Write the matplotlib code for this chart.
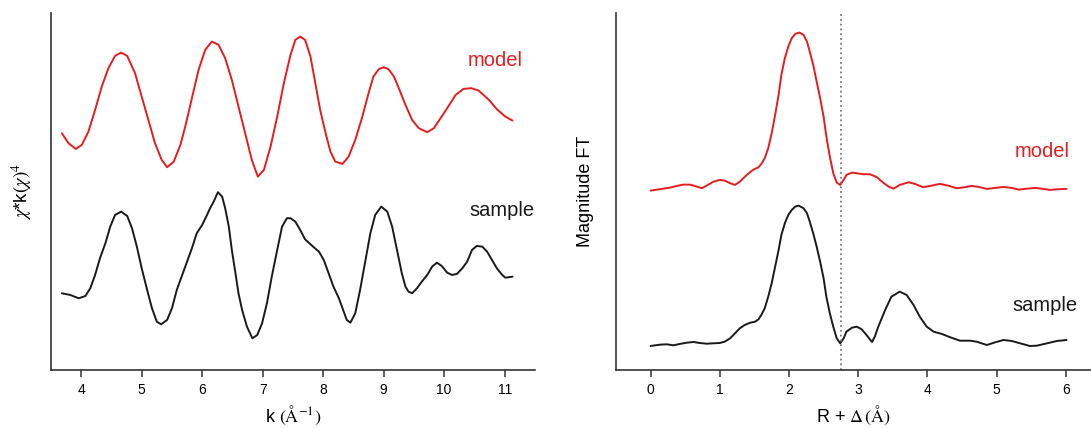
import matplotlib
matplotlib.use("Agg")
import matplotlib.pyplot as plt

plt.rcParams['font.family'] = ['Liberation Sans', 'DejaVu Sans']
plt.rcParams['mathtext.fontset'] = 'stix'

# k-space (left panel), arbitrary units
k_model = [3.68, 3.79, 3.91, 4.01, 4.12, 4.23, 4.34, 4.45, 4.56, 4.66, 4.76, 4.89, 5.00,
           5.11, 5.22, 5.33, 5.42, 5.53, 5.64, 5.72, 5.83, 5.94, 6.05, 6.16, 6.27, 6.38,
           6.49, 6.60, 6.71, 6.82, 6.92, 7.02, 7.13, 7.24, 7.35, 7.46, 7.54, 7.62, 7.70,
           7.79, 7.87, 7.95, 8.04, 8.12, 8.20, 8.32, 8.42, 8.53, 8.64, 8.75, 8.83, 8.92,
           9.00, 9.08, 9.17, 9.25, 9.36, 9.47, 9.58, 9.72, 9.83, 9.94, 10.05, 10.19, 10.32,
           10.45, 10.57, 10.74, 10.87, 11.01, 11.13]
chi_model = [236.7, 226.7, 221, 225, 238.3, 260, 283.3, 301.7, 314, 317.3, 314, 296.7, 273.3,
             250, 226.7, 210, 202.7, 208.3, 225, 243.3, 271.7, 300, 320, 328.3, 325, 311.7,
             290, 263.3, 236.7, 210, 193.3, 200, 223.3, 253.3, 286.7, 315, 330, 333.3, 330,
             313.3, 286.7, 260, 236.7, 218.3, 208.3, 206, 213.3, 230, 251.7, 276.7, 293.3, 300.7,
             302.7, 300.7, 293.3, 281.7, 265, 250, 241.7, 237.7, 241.7, 251.7, 261.7, 275, 281,
             281.7, 279.3, 270, 260.7, 253.3, 249.3]

k_sample = [3.68, 3.82, 3.96, 4.07, 4.15, 4.23, 4.31, 4.40, 4.48, 4.56, 4.66, 4.76, 4.84,
            4.92, 5.00, 5.09, 5.17, 5.25, 5.32, 5.42, 5.50, 5.58, 5.67, 5.75, 5.83, 5.91,
            6.00, 6.08, 6.13, 6.19, 6.26, 6.33, 6.38, 6.44, 6.49, 6.55, 6.60, 6.66, 6.74,
            6.83, 6.91, 6.99, 7.07, 7.15, 7.24, 7.32, 7.40, 7.46, 7.54, 7.62, 7.70, 7.82,
            7.93, 8.01, 8.09, 8.17, 8.26, 8.34, 8.39, 8.45, 8.53, 8.61, 8.70, 8.78, 8.86,
            8.96, 9.06, 9.14, 9.22, 9.30, 9.36, 9.41, 9.47, 9.55, 9.63, 9.72, 9.80, 9.88,
            9.96, 10.05, 10.13, 10.21, 10.30, 10.38, 10.46, 10.54, 10.63, 10.71, 10.79,
            10.87, 10.96, 11.01, 11.13]
chi_sample = [76.7, 75, 71.7, 74, 81.7, 95, 111.7, 126.7, 143.3, 155, 158.3, 154, 141.7,
              123.3, 101.7, 80, 61.7, 48.3, 45.7, 50, 61.7, 80, 95, 108.3, 121.7, 136.7,
              145, 155, 161.7, 168.3, 177.7, 173.3, 161.7, 143.3, 120, 96.7, 76.7, 60, 43.3,
              31.7, 35, 46.7, 66.7, 93.3, 120, 143.3, 151.7, 151.7, 148.3, 140, 130.7, 124,
              118.3, 110, 96.7, 83.3, 71.7, 58.3, 50, 47.3, 56.7, 80, 110, 136.7, 155,
              163.3, 158.3, 143.3, 120, 96.7, 83.3, 78.3, 76.7, 81.7, 88.3, 95, 103.3, 107.3,
              104, 97.3, 95, 96, 101.7, 108.3, 120, 124, 123.3, 118.3,
              110, 101.7, 95, 92.3, 93.3]

# R-space (right panel), arbitrary units
r_model = [0.00, 0.13, 0.28, 0.38, 0.47, 0.57, 0.64, 0.74, 0.81, 0.91, 1.00, 1.07, 1.15,
           1.22, 1.29, 1.39, 1.48, 1.56, 1.60, 1.65, 1.70, 1.75, 1.80, 1.85, 1.89, 1.94,
           1.99, 2.04, 2.09, 2.15, 2.21, 2.26, 2.30, 2.35, 2.40, 2.45, 2.50, 2.54, 2.59,
           2.64, 2.69, 2.74, 2.79, 2.83, 2.91, 2.98, 3.07, 3.17, 3.27, 3.36, 3.44, 3.51,
           3.60, 3.73, 3.82, 3.94, 4.06, 4.18, 4.30, 4.42, 4.54, 4.64, 4.74, 4.86, 4.98,
           5.10, 5.22, 5.32, 5.44, 5.56, 5.68, 5.77, 5.89, 6.01]
ft_model = [179.3, 180.7, 182.3, 184, 185.3, 185.3, 184, 181.7, 184.3, 188.3, 190, 189.3, 186.7,
            185, 188.3, 195, 200, 202.7, 206, 211.7, 221.7, 236.7, 255, 275, 295, 311.7,
            323.3, 331.7, 336, 337.3, 335, 328.3, 318.3, 305, 288.3, 271.7, 253.3, 233.3, 213.3,
            196.7, 187.3, 185, 190, 195, 197.3, 196.7, 195.7, 195.7, 192.7, 187.3, 183.3, 181.3,
            185, 187.7, 186, 182.7, 184.3, 186, 184.3, 181.7, 182.7, 184, 183, 181, 182,
            183, 182, 180.3, 181.3, 182, 181, 180, 180.7, 181]

r_sample = [0.00, 0.13, 0.23, 0.33, 0.42, 0.52, 0.62, 0.71, 0.81, 0.91, 1.00, 1.07, 1.15,
            1.22, 1.29, 1.36, 1.44, 1.51, 1.56, 1.60, 1.65, 1.70, 1.75, 1.80, 1.85, 1.89,
            1.94, 1.99, 2.04, 2.09, 2.14, 2.21, 2.26, 2.30, 2.35, 2.40, 2.45, 2.50, 2.54,
            2.59, 2.64, 2.69, 2.74, 2.79, 2.83, 2.91, 2.98, 3.05, 3.12, 3.20, 3.24, 3.29,
            3.39, 3.48, 3.60, 3.70, 3.80, 3.89, 3.99, 4.09, 4.21, 4.33, 4.47, 4.62, 4.71,
            4.86, 4.98, 5.10, 5.22, 5.34, 5.48, 5.58, 5.73, 5.87, 6.01]
ft_sample = [24, 25.3, 25.7, 24.7, 26, 27.3, 28, 27, 26.3, 26.7, 27, 28.3, 31.7,
             36.7, 41.7, 45, 47.3, 48.3, 50.7, 55, 61.7, 73.3, 86.7, 103.3, 120, 135,
             146.7, 155, 160, 163.3, 164.3, 161.7, 156.7, 148.3, 136.7, 123.3, 108.3, 91.7, 73.3,
             56.7, 43.3, 31.7, 26.7, 31.7, 38.3, 42.3, 43.3, 40.7, 35, 28, 33.3, 43.3,
             60, 73.3, 78.3, 75, 65, 53.3, 43.3, 38.3, 36, 32.7, 29.3, 29.3, 28.3,
             25, 27.7, 30, 29, 26.7, 24, 24.3, 26.7, 29, 30]

r_cut = 2.75

red = '#e41d20'
dark = '#1a1a1a'
fig = plt.figure(figsize=(10.91, 4.28), dpi=100)
ax1 = fig.add_axes([0.0467, 0.1355, 0.4436, 0.8345])
ax2 = fig.add_axes([0.5646, 0.1355, 0.4345, 0.8345])

line_kw = dict(lw=1.4, solid_joinstyle='round', solid_capstyle='round')

ax1.plot(k_model, chi_model, color=red, **line_kw)
ax1.plot(k_sample, chi_sample, color=dark, **line_kw)
ax1.set_xlim(3.5, 11.5)
ax1.set_ylim(0, 357)
ax1.set_xticks(range(4, 12))
ax1.set_ylabel(r'$\chi$*k$(\chi)^4$', fontsize=13.5, labelpad=12)
ax1.set_xlabel(r'k $(\mathrm{\AA}^{-1})$', fontsize=13, labelpad=5)
ax1.text(10.85, 309, 'model', color=red, fontsize=14.5, ha='center', va='center')
ax1.text(10.96, 159, 'sample', color=dark, fontsize=14.5, ha='center', va='center')

ax2.plot(r_model, ft_model, color=red, **line_kw)
ax2.plot(r_sample, ft_sample, color=dark, **line_kw)
ax2.axvline(r_cut, color='#7a7a7a', ls=':', lw=1.3)
ax2.set_xlim(-0.5, 6.35)
ax2.set_ylim(0, 357)
ax2.set_xticks(range(0, 7))
ax2.set_ylabel('Magnitude FT', fontsize=13, labelpad=16)
ax2.set_xlabel(r'R + $\Delta\,(\mathrm{\AA})$', fontsize=13, labelpad=5)
ax2.text(5.66, 218, 'model', color=red, fontsize=14.5, ha='center', va='center')
ax2.text(5.70, 64, 'sample', color=dark, fontsize=14.5, ha='center', va='center')

for ax in (ax1, ax2):
    ax.spines['top'].set_visible(False)
    ax.spines['right'].set_visible(False)
    ax.spines['left'].set_linewidth(1.2)
    ax.spines['bottom'].set_linewidth(1.2)
    ax.spines['left'].set_color('#333333')
    ax.spines['bottom'].set_color('#333333')
    ax.set_yticks([])
    ax.tick_params(axis='x', length=5, width=1.1, color='#333333', labelsize=10, pad=4)

fig.savefig('out.png', dpi=100)
